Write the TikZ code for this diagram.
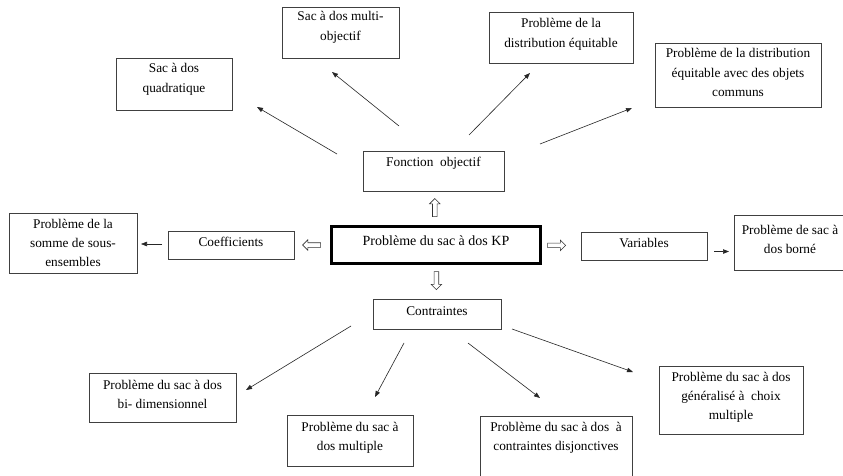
\documentclass[tikz,border=0pt]{standalone}
\usepackage{fontspec}
\setmainfont{Liberation Serif}
\usetikzlibrary{arrows.meta,shapes.arrows,calc}
\newcommand\bx[4]{\parbox[c][#2pt][t]{#1pt}{\centering\rule{0pt}{#4pt}#3\par}}
\begin{document}
\begin{tikzpicture}[x=1pt,y=-1pt,
  box/.style={draw=black!75, line width=0.8pt, inner sep=0pt, outer sep=0pt,
    font=\fontsize{13.3}{19.2}\selectfont},
  kpbox/.style={draw=black, line width=2.6pt, inner sep=0pt, outer sep=0pt,
    font=\fontsize{14}{16}\selectfont},
  con/.style={draw=black!85, line width=0.6pt, -{Triangle[length=6pt,width=4.5pt]}},
  hol/.style={shape=single arrow, draw=black!80, line width=0.55pt,
    minimum height=18pt, inner sep=2pt,
    single arrow head extend=3pt, single arrow head indent=0pt}]
\useasboundingbox (0,0) rectangle (843,476);
\clip (0,0) rectangle (843,476);
\fill[white] (0,0) rectangle (843,476);

% top row
\node[box] (q)  at (174,84)    {\bx{116}{52}{Sac à dos\\quadratique}{15}};
\node[box] (mo) at (340.5,32.5){\bx{117}{51}{Sac à dos multi-\\objectif}{14}};
\node[box] (de) at (561,37.5)  {\bx{144}{51}{Problème de la\\distribution équitable}{16}};
\node[box] (dc) at (738,75)    {\bx{166}{64}{Problème de la distribution\\équitable avec des objets\\communs}{15}};
\node[box] (fo) at (433.5,171) {\bx{141}{40}{Fonction\ \ objectif}{15}};

% middle row
\node[kpbox] (kp) at (436,245) {\bx{209}{37}{Problème du sac à dos KP}{19}};
\node[box] (co) at (231,245)   {\bx{126}{28}{Coefficients}{15.5}};
\node[box] (ss) at (73,243)    {\bx{128}{60}{Problème de la\\somme de sous-\\ensembles}{15}};
\node[box] (va) at (644,246)   {\bx{126}{28}{Variables}{15}};
\node[box] (bo) at (790,242.5) {\bx{112}{55}{Problème de sac à\\dos borné}{19.5}};

% bottom row
\node[box] (ct) at (437,314)   {\bx{128}{30}{Contraintes}{16}};
\node[box] (bd) at (162.5,397.5){\bx{147}{49}{Problème du sac à dos\\bi- dimensionnel}{16}};
\node[box] (mu) at (350,440.5) {\bx{126}{51}{Problème du sac à\\dos multiple}{16}};
\node[box] (dj) at (556,446)   {\bx{152}{60}{Problème du sac à dos\ \ à\\contraintes disjonctives}{15}};
\node[box] (ge) at (731,400)   {\bx{144}{68}{Problème du sac à dos\\généralisé à\ \ choix\\multiple}{15}};

% hollow arrows
\node[hol, shape border rotate=90]  (hu) at ($(fo.south)!0.5!(kp.north)$) {};
\node[hol, shape border rotate=180] (hl) at ($(co.east)!0.5!(kp.west)$) {};
\node[hol]                          (hr) at ($(kp.east)!0.37!(va.west)$) {};
\node[hol, shape border rotate=270] (hd) at ($(kp.south)!0.45!(ct.north)$) {};

% connector end points
\coordinate (a1s) at (337,154); \coordinate (a1e) at (257,107);
\coordinate (a2s) at (399,126); \coordinate (a2e) at (332,72);
\coordinate (a3s) at (469,135); \coordinate (a3e) at (530,73);
\coordinate (a4s) at (540,144); \coordinate (a4e) at (632,108);
\coordinate (b1s) at (351,326); \coordinate (b1e) at (246,390);
\coordinate (b2s) at (404,343); \coordinate (b2e) at (375,397);
\coordinate (b3s) at (468,343); \coordinate (b3e) at (540,398);
\coordinate (b4s) at (512,329); \coordinate (b4e) at (633,372);

\draw[con] (a1s) -- (a1e);
\draw[con] (a2s) -- (a2e);
\draw[con] (a3s) -- (a3e);
\draw[con] (a4s) -- (a4e);
\draw[con] (b1s) -- (b1e);
\draw[con] (b2s) -- (b2e);
\draw[con] (b3s) -- (b3e);
\draw[con] (b4s) -- (b4e);
\draw[con, shorten <=6pt, shorten >=4pt] ([yshift=1pt]co.west) -- ([yshift=1pt]co.west -| ss.east);
\draw[con, shorten <=7pt, shorten >=5pt] ([yshift=-5.5pt]va.east) -- ([yshift=-5.5pt]va.east -| bo.west);
\end{tikzpicture}
\end{document}
